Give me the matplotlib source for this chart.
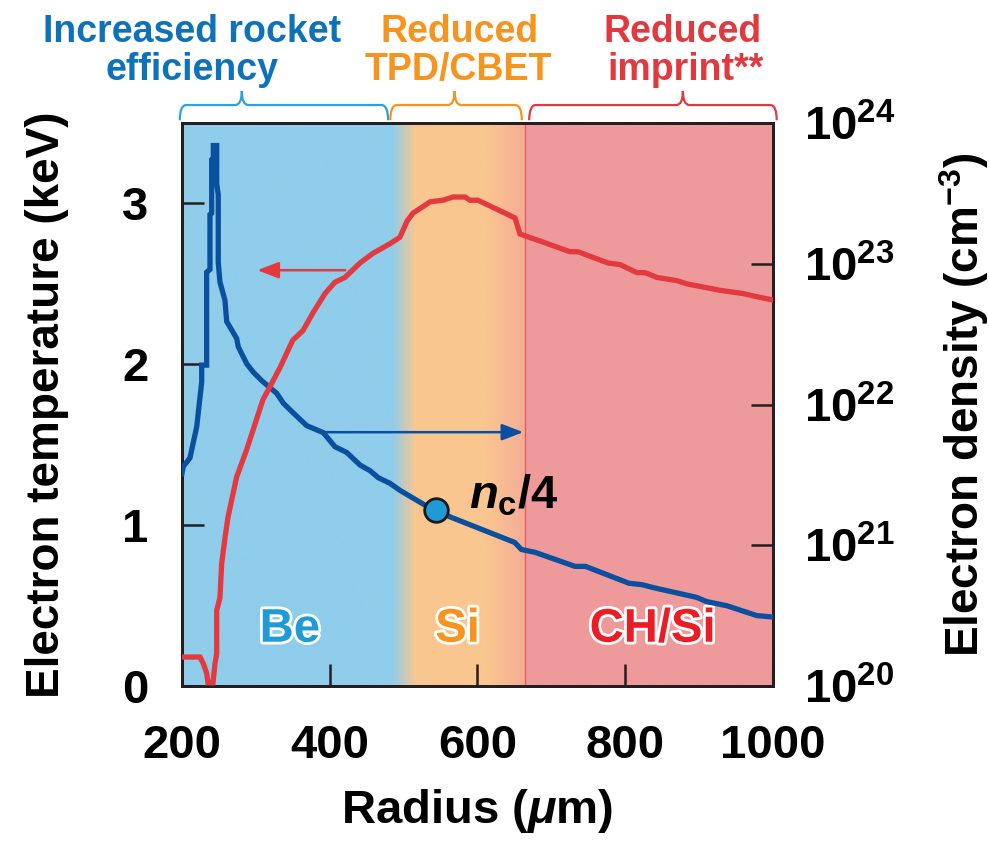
import matplotlib
matplotlib.use("Agg")
import matplotlib.pyplot as plt
import numpy as np
from matplotlib.path import Path
from matplotlib.patches import PathPatch
from matplotlib import patheffects as pe
from matplotlib.ticker import FixedLocator, FuncFormatter, NullLocator

plt.rcParams['font.family'] = ['Liberation Sans', 'DejaVu Sans']
plt.rcParams['font.weight'] = 'bold'
plt.rcParams['mathtext.fontset'] = 'custom'
plt.rcParams['mathtext.rm'] = 'Liberation Sans:bold'
plt.rcParams['mathtext.bf'] = 'Liberation Sans:bold'
plt.rcParams['mathtext.it'] = 'Liberation Sans:italic:bold'
plt.rcParams['mathtext.default'] = 'bf'

# =============================================================================
# Data
# =============================================================================
# electron temperature (keV) vs radius (um)
radius_T = [200, 224.4, 228.8, 233.4, 235.2, 242.0, 244.7, 247.0, 247.0, 251.4,
            253.7, 258.2, 262.3, 274.0, 287.6, 309.6, 319.0, 332.7, 350.0, 363.8,
            377.3, 393.6, 407.0, 420.6, 441.0, 458.5, 481.6, 495.0, 504.6, 512.7,
            526.0, 535.7, 553.3, 566.8, 583.0, 589.8, 600.7, 650.8, 657.5, 688.7,
            725.2, 736.0, 776.6, 792.9, 815.9, 826.7, 843.0, 870.0, 883.6, 928.3,
            959.4, 978.3, 1000]
temp = [0.18, 0.18, 0.14, 0.08, 0.02, 0.02, 0.14, 0.20, 0.47, 0.55,
        0.76, 0.92, 1.05, 1.30, 1.47, 1.78, 1.86, 1.98, 2.15, 2.21,
        2.32, 2.44, 2.51, 2.54, 2.63, 2.69, 2.75, 2.79, 2.89, 2.94,
        2.98, 3.01, 3.02, 3.04, 3.04, 3.02, 3.02, 2.91, 2.81, 2.76,
        2.70, 2.70, 2.63, 2.62, 2.57, 2.57, 2.54, 2.52, 2.50, 2.46,
        2.44, 2.42, 2.40]

# electron density, as log10(n / cm^-3)
radius_n = [200, 201.8, 210.8, 215.3, 219.9, 226.7, 226.7, 233.4, 233.4, 237.9,
            237.9, 240.2, 240.2, 242.4, 242.4, 247.0, 247.0, 249.1, 249.1, 251.4,
            258.2, 260.5, 274.0, 276.2, 287.6, 296.5, 307.9, 319.1, 328.2, 337.1,
            350.7, 368.8, 382.3, 391.3, 407.1, 422.9, 441.0, 454.5, 465.7, 481.6,
            495.1, 527.3, 543.8, 563.7, 650.4, 659.4, 677.8, 732.0, 746.2, 805.1,
            822.7, 837.2, 896.5, 910.1, 937.7, 978.3, 1000]
log_dens = [21.51, 21.56, 21.62, 21.73, 21.84, 22.16, 22.28, 22.28, 22.94, 22.96,
            23.35, 23.36, 23.74, 23.75, 23.84, 23.84, 23.57, 23.49, 23.01, 22.87,
            22.74, 22.59, 22.47, 22.41, 22.29, 22.23, 22.17, 22.12, 22.08, 22.01,
            21.94, 21.85, 21.82, 21.80, 21.70, 21.66, 21.57, 21.53, 21.48, 21.44,
            21.39, 21.29, 21.25, 21.20, 21.02, 20.97, 20.95, 20.85, 20.85, 20.73,
            20.72, 20.70, 20.63, 20.60, 20.57, 20.50, 20.49]

# quarter-critical point
nc4_radius = 543.8
nc4_log_dens = 21.25

# layer boundaries (um)
be_end = 484
si_start = 516
si_fade = 612
ch_start = 664

x_ticks = [200, 400, 600, 800, 1000]
t_ticks = [0, 1, 2, 3]
n_ticks = [20, 21, 22, 23, 24]

BLUE_BG = np.array([143, 205, 235]) / 255
ORANGE_BG = np.array([250, 198, 143]) / 255
FADE_BG = np.array([244, 172, 150]) / 255
RED_BG = np.array([238, 154, 155]) / 255

BLUE_LINE = '#0b4f9f'
RED_LINE = '#e3393f'
BLUE_TXT = '#0d72ba'
ORANGE_TXT = '#f7941d'
RED_TXT = '#e2393e'

# =============================================================================
# Figure
# =============================================================================
fig = plt.figure(figsize=(9.89, 8.41), dpi=100)
ax = fig.add_axes([0.184, 0.1843, 0.5976, 0.6694])
ax2 = ax.twinx()

# background: layers with soft transitions
xs = np.linspace(200, 1000, 1601)
cols = np.zeros((1, xs.size, 3))
for k in range(3):
    c = np.interp(xs, [200, be_end, si_start, si_fade, ch_start - 0.5, ch_start, 1000],
                  [BLUE_BG[k], BLUE_BG[k], ORANGE_BG[k], ORANGE_BG[k], FADE_BG[k],
                   RED_BG[k], RED_BG[k]])
    cols[0, :, k] = c
ax.imshow(cols, extent=(200, 1000, 0, 3.5), aspect='auto', interpolation='bilinear',
          zorder=0)
ax.axvline(ch_start, color='#e8585c', lw=0.9, zorder=1)

# curves
ax2.plot(radius_n, 10 ** np.array(log_dens), color=BLUE_LINE, lw=3.8,
         solid_joinstyle='miter', zorder=3)
ax2.plot(radius_T, temp, color=RED_LINE, lw=3.8, transform=ax.transData,
         solid_joinstyle='miter', zorder=4)
ax2.plot([nc4_radius], [10 ** nc4_log_dens], 'o', ms=17, mfc='#1e9ad6', mec='#1a1a1a',
         mew=2, zorder=5)

ax.text(589, 1.105, r'$\mathit{n}_\mathrm{c}$/4', fontsize=34, fontweight='bold',
        ha='left', va='baseline', zorder=6)

# arrows
ax.annotate('', xy=(302, 2.585), xytext=(421, 2.585),
            arrowprops=dict(arrowstyle='-|>,head_length=1.3,head_width=0.5',
                            color=RED_LINE, lw=1.8, shrinkA=0, shrinkB=0), zorder=2)
ax.annotate('', xy=(662, 1.578), xytext=(391, 1.578),
            arrowprops=dict(arrowstyle='-|>,head_length=1.3,head_width=0.5',
                            color=BLUE_LINE, lw=1.8, shrinkA=0, shrinkB=0), zorder=2)

# material labels
stroke = [pe.withStroke(linewidth=4, foreground='white')]
ax.text(346, 0.35, 'Be', color='#1e9ad6', fontsize=34, fontweight='bold',
        ha='center', va='center', path_effects=stroke, zorder=6)
ax.text(573, 0.35, 'Si', color=ORANGE_TXT, fontsize=34, fontweight='bold',
        ha='center', va='center', path_effects=stroke, zorder=6)
ax.text(837, 0.35, 'CH/Si', color='#ed1c24', fontsize=34, fontweight='bold',
        ha='center', va='center', path_effects=stroke, zorder=6)

# axes
ax.set_xlim(200, 1000)
ax.set_ylim(0, 3.5)
ax2.set_yscale('log')
ax2.set_ylim(1e20, 1e24)
ax2.set_xlim(200, 1000)

ax.set_xticks(x_ticks)
ax.set_yticks(t_ticks)
ax.tick_params(axis='both', direction='in', length=16, width=1.8, labelsize=34,
               colors='#231f20', labelcolor='black')
ax.tick_params(axis='x', pad=27)
ax.tick_params(axis='y', pad=24)
ax2.yaxis.set_major_locator(FixedLocator([10.0 ** p for p in n_ticks]))
ax2.yaxis.set_minor_locator(NullLocator())
ax2.yaxis.set_major_formatter(FuncFormatter(lambda v, p: r'$10^{%d}$' % round(np.log10(v))))
ax2.tick_params(axis='y', direction='in', length=16, width=1.8, labelsize=34, pad=22,
                colors='#231f20', labelcolor='black')

for a in (ax, ax2):
    for s in a.spines.values():
        s.set_linewidth(2)
        s.set_color('#231f20')

ax.set_xlabel(r'Radius ($\mathit{\mu}$m)', fontsize=34, fontweight='bold', labelpad=14)
ax.set_ylabel('Electron temperature (keV)', fontsize=33, fontweight='bold', labelpad=38)
ax2.set_ylabel(r'Electron density (cm$^{-3}$)', fontsize=33, fontweight='bold',
               labelpad=30)

# braces above the axes
def brace(x0, x1, xm, color):
    r = 9
    y_end, y_bar, y_pk = 1.005, 1.032, 1.057
    verts = [(x0, y_end), (x0, y_bar), (x0 + r, y_bar), (xm - r, y_bar),
             (xm, y_bar), (xm, y_pk), (xm, y_bar), (xm + r, y_bar),
             (x1 - r, y_bar), (x1, y_bar), (x1, y_end)]
    codes = [Path.MOVETO, Path.CURVE3, Path.CURVE3, Path.LINETO,
             Path.CURVE3, Path.CURVE3, Path.CURVE3, Path.CURVE3,
             Path.LINETO, Path.CURVE3, Path.CURVE3]
    patch = PathPatch(Path(verts, codes), transform=ax.get_xaxis_transform(),
                      fc='none', ec=color, lw=1.6, clip_on=False)
    ax.add_patch(patch)

brace(197, 479, 281, '#29a3dd')
brace(482, 660, 569, ORANGE_TXT)
brace(670, 1005, 878, RED_TXT)

fig.text(192 / 989, 1 - 41.7 / 841, 'Increased rocket', color=BLUE_TXT, fontsize=27,
         fontweight='bold', ha='center', va='baseline')
fig.text(192 / 989, 1 - 80 / 841, 'efficiency', color=BLUE_TXT, fontsize=27,
         fontweight='bold', ha='center', va='baseline')
fig.text(460 / 989, 1 - 41.7 / 841, 'Reduced', color=ORANGE_TXT, fontsize=27,
         fontweight='bold', ha='center', va='baseline')
fig.text(458 / 989, 1 - 80 / 841, 'TPD/CBET', color=ORANGE_TXT, fontsize=27,
         fontweight='bold', ha='center', va='baseline')
fig.text(683 / 989, 1 - 41.7 / 841, 'Reduced', color=RED_TXT, fontsize=27,
         fontweight='bold', ha='center', va='baseline')
fig.text(685 / 989, 1 - 80 / 841, 'imprint**', color=RED_TXT, fontsize=27,
         fontweight='bold', ha='center', va='baseline')

fig.savefig('out.png', dpi=100)
